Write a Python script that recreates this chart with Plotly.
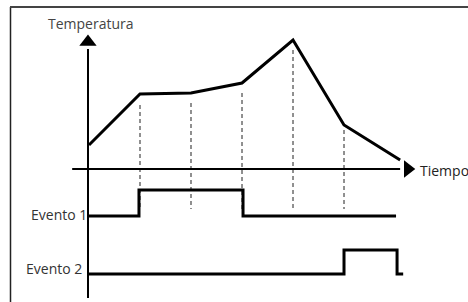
import plotly.graph_objects as go

# ---- data ----
time_knots = [0, 1, 2, 3, 4, 5, 6.1]
temperature = [2.4, 7.5, 7.6, 8.6, 12.9, 4.4, 0.9]

event1_times = [0, 0.98, 3.02, 6.02]
event1_states = [0, 1, 0, 0]
event2_times = [0, 5.0, 6.04, 6.16]
event2_states = [0, 1, 0, 0]

guide_times = [1, 2, 3, 4, 5]
guide_tops = [6.4, 6.6, 7.6, 11.9, 3.9]

labels = {"y": "Temperatura", "x": "Tiempo", "e1": "Evento 1", "e2": "Evento 2"}

# ---- layout constants (drawing offsets for event rows) ----
E1_BASE, E1_AMP = -4.7, 2.6
E2_BASE, E2_AMP = -10.5, 2.4
GUIDE_BOTTOM = -4.0

fig = go.Figure()

# guide lines
for t, top in zip(guide_times, guide_tops):
    fig.add_trace(go.Scatter(x=[t, t], y=[top, GUIDE_BOTTOM], mode="lines",
                             line=dict(color="#555", width=1.3, dash="4px,3px"),
                             hoverinfo="skip", showlegend=False))

# axes
fig.add_trace(go.Scatter(x=[-0.02, -0.02], y=[-12.9, 12.0], mode="lines",
                         line=dict(color="black", width=2), showlegend=False))
fig.add_trace(go.Scatter(x=[-0.02], y=[12.7], mode="markers",
                         marker=dict(symbol="triangle-up", size=15, color="black"),
                         showlegend=False))
fig.add_trace(go.Scatter(x=[-0.33, 6.1], y=[0, 0], mode="lines",
                         line=dict(color="black", width=2), showlegend=False))
fig.add_trace(go.Scatter(x=[6.25], y=[0], mode="markers",
                         marker=dict(symbol="triangle-right", size=15, color="black"),
                         showlegend=False))

# temperature
fig.add_trace(go.Scatter(x=time_knots, y=temperature, mode="lines",
                         line=dict(color="black", width=3), showlegend=False))

# events
fig.add_trace(go.Scatter(x=event1_times, y=[E1_BASE + s * E1_AMP for s in event1_states],
                         mode="lines", line=dict(color="black", width=3, shape="hv"),
                         showlegend=False))
fig.add_trace(go.Scatter(x=event2_times, y=[E2_BASE + s * E2_AMP for s in event2_states],
                         mode="lines", line=dict(color="black", width=3, shape="hv"),
                         showlegend=False))

font = dict(family="Open Sans", size=14, color="#333")
ann = [
    dict(x=0.04, y=14.6, text=labels["y"], xanchor="center", yanchor="middle",
         font=dict(family="Open Sans", size=14, color="#444")),
    dict(x=6.45, y=-0.1, text=labels["x"], xanchor="left", yanchor="middle",
         font=dict(family="Open Sans", size=14, color="#222")),
    dict(x=0.0, y=E1_BASE + 0.15, text=labels["e1"], xanchor="right", yanchor="middle"),
    dict(x=-0.1, y=E2_BASE + 0.6, text=labels["e2"], xanchor="right", yanchor="middle"),
]
annotations = []
for a in ann:
    a.setdefault("font", font)
    a.update(showarrow=False, xref="x", yref="y")
    annotations.append(a)

fig.update_layout(
    width=468, height=302, margin=dict(l=0, r=0, t=0, b=0),
    plot_bgcolor="white", paper_bgcolor="white",
    xaxis=dict(range=[-1.745, 7.431], visible=False, fixedrange=True),
    yaxis=dict(range=[-13.3, 16.9], visible=False, fixedrange=True),
    annotations=annotations,
    shapes=[
        dict(type="line", xref="paper", yref="paper", x0=10.5/468, x1=10.5/468, y0=0, y1=1 - 7/302,
             line=dict(color="#222", width=1.5)),
        dict(type="line", xref="paper", yref="paper", x0=10/468, x1=1, y0=1 - 7/302, y1=1 - 7/302,
             line=dict(color="#444", width=2)),
    ],
)

fig.write_html("out.html", config={"displayModeBar": False},
               post_script="document.body.style.margin='0px';document.body.style.overflow='hidden';")
